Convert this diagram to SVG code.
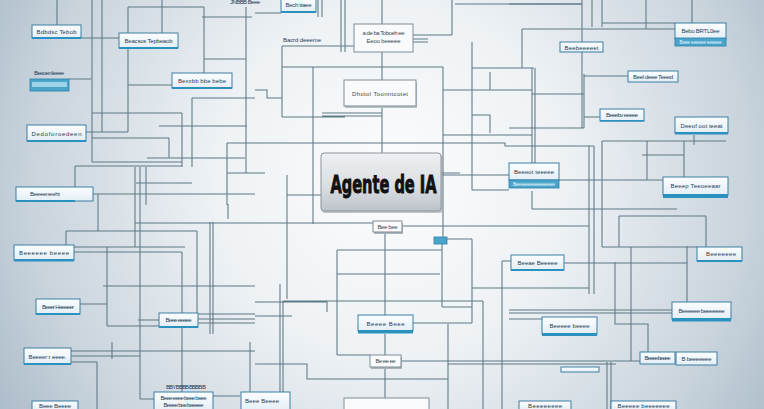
<svg xmlns="http://www.w3.org/2000/svg" width="764" height="409" viewBox="0 0 764 409">
<defs>
<radialGradient id="bg" gradientUnits="userSpaceOnUse" cx="390" cy="180" r="500">
<stop offset="0" stop-color="#fbfcfd"/>
<stop offset="0.35" stop-color="#eef2f5"/>
<stop offset="0.72" stop-color="#c8d3dc"/>
<stop offset="1" stop-color="#9fb1c0"/>
</radialGradient>
<linearGradient id="lg" x1="0" y1="0" x2="0" y2="1">
<stop offset="0" stop-color="#fbfdfe"/>
<stop offset="1" stop-color="#e3eef5"/>
</linearGradient>
<linearGradient id="ag" x1="0" y1="0" x2="0" y2="1">
<stop offset="0" stop-color="#eef0f2"/>
<stop offset="0.6" stop-color="#d9dde1"/>
<stop offset="1" stop-color="#bcc3ca"/>
</linearGradient>
<style>
.ln{fill:none;stroke:#5e7884;stroke-width:1.05}
.lb{fill:url(#lg);stroke:#3d7fa4;stroke-width:1}
.wb{fill:#f8fafb;stroke:#7f8d97;stroke-width:1}
.bar{fill:#2b92bf}
.cy{fill:#4aa5cd;stroke:#2a7fa8;stroke-width:.8}
.t{font-family:"Liberation Sans",Arial,sans-serif;font-size:6px;fill:#1e3d58;text-anchor:middle}
.tw{font-family:"Liberation Sans",Arial,sans-serif;font-size:4.5px;fill:#eaf6fb;text-anchor:middle}
.tg{font-family:"Liberation Sans",Arial,sans-serif;font-size:6px;fill:#3a4a55;text-anchor:middle}
</style>
</defs>
<rect width="764" height="409" fill="url(#bg)"/>
<g id="connectors">
<path class="ln" d="M57 0V25 M92 0V162 M102 0V132 M81 38H119 M128 7V33 M128 7H204 M204 7V73 M162 0V33 M202 17H252 M246 7V173 M128 49V132 M86 132H128 M128 85H172 M69 79H91 M204 59H246 M192 98H255 M192 98V167 M92 113H182 M182 113V167 M159 126H247 M92 138H169 M169 138V158 M92 162H182 M147 158H245 M227 143V205 M227 173H265 M75 166H182 M75 166V187 M135 167V247 M140 167V399 M146 167V205 M136 183H192 M93 194H255 M98 194V231 M66 231H197 M66 231V245 M197 231V313 M74 247H185 M74 252H182 M182 252V392 M107 247V326 M107 326H159 M138 320H159 M80 304H107 M103 286H255 M135 223H373 M140 399H155 M210 222V334 M213 222V334 M71 351H255 M112 342V359 M71 356H140 M71 362H97 M97 362V409 M198 314H255 M198 319H255 M198 323H255 M213 396H240 M228 204V219 M250 342V392"/>
<path class="ln" d="M318 0V17 M322 0V17 M341 0V52 M345 0V52 M255 13H281 M382 0V24 M382 52V80 M382 107V153 M282 46H354 M282 46V117 M282 117H345 M282 67H443 M443 67V237 M313 67V224 M322 113H382 M322 116H382 M227 143H505V146H594 M455 4H582 M452 0V35 M413 35H452 M413 39H428 M413 42H428 M472 42V190 M472 190H509 M472 68H534 M490 72V90 M443 90H532 M472 115H490V133 M443 135H532 M442 175H509 M287 175V299 M287 195H321 M255 90H267V98H282 M441 173H460"/>
<path class="ln" d="M582 0V42 M582 52V128 M509 4H582 M592 0V27 M602 0V27 M602 23H675 M522 29H675 M522 29V68 M646 0V29 M692 0V23 M532 68V163 M535 68V163 M532 94H584 M584 74V128 M584 76H628 M584 117H600 M509 128H584 M589 146V294 M594 146V294 M602 141H726 M602 141V247 M647 141V180 M642 155H684 M684 141V178 M694 135V145 M559 180H663 M532 191V209 M532 209H677"/>
<path class="ln" d="M403 226H510 M385 232V315 M385 334V355 M385 367V398 M337 250H442 M337 250V355 M337 355H370 M442 244V307 M442 307H472 M472 239V323 M447 239H472 M337 274H440 M283 301H483 M283 301V409 M483 301V409 M255 302H327V312 M255 316H292 M448 324V409 M413 323H472 M255 364H307V379H448 M401 361H640 M448 364H616 M502 261V409 M502 261H511 M472 288H589 M280 284V409 M602 247H697 M619 216V247 M619 216H706 M706 216V247 M509 226H589 M564 263H687 M687 246V302 M631 247V361 M615 262V324H648V352 M509 310H672 M509 313H672 M509 319H542 M607 362V409 M611 362V409"/>
</g>
<g id="n1"><rect class="lb" x="32" y="25" width="49" height="13"/><rect class="bar" x="32" y="37" width="49" height="2"/><text class="t" x="56.5" y="33.5" textLength="40">Bdbdsc Tebob</text></g>
<g id="n2"><rect class="lb" x="119" y="33" width="59" height="15"/><rect class="bar" x="119" y="47" width="59" height="2"/><text class="t" x="148.5" y="42.5" textLength="48">Beacsos Tepbeaob</text></g>
<g id="n3"><text class="t" x="49" y="75" font-size="5" textLength="30">Beeoen leeee</text><rect class="cy" x="30" y="79" width="39" height="12"/><rect x="32" y="82" width="35" height="5" fill="#9fd3e8"/></g>
<g id="n4"><rect class="lb" x="172" y="73" width="60" height="15"/><rect class="bar" x="172" y="87" width="60" height="2"/><text class="t" x="202" y="82.5" textLength="48">Bexxbb bbe bebe</text></g>
<g id="n5"><rect class="lb" x="27" y="125" width="59" height="16"/><rect class="bar" x="27" y="140" width="59" height="2"/><text class="t" x="56.5" y="135.5" textLength="50">Dedoforoedeen</text></g>
<g id="n6"><rect class="lb" x="16" y="187" width="77" height="14"/><rect class="bar" x="16" y="200" width="59" height="2"/><text class="t" x="45" y="196" textLength="30">Beeeeneeht</text></g>
<g id="n7"><rect class="lb" x="281" y="-2" width="35" height="14"/><rect class="bar" x="281" y="11" width="35" height="2"/><text class="t" x="298.5" y="7" textLength="26">Bech ttaee</text></g>
<g id="n8"><text class="t" x="302" y="42" font-size="5" textLength="38">Bacrd deeeme</text></g>
<g id="n9"><rect class="wb" x="354" y="24" width="59" height="28"/><text class="tg" x="383.5" y="35" font-size="5" textLength="42">a de ba Toboeh ee</text><text class="tg" x="383.5" y="43" font-size="5" textLength="34">Eeoo beeeee</text></g>
<g id="n10"><rect x="345" y="82" width="72" height="26" fill="#b8c2c9"/><rect class="wb" x="344" y="80" width="72" height="26"/><text class="tg" x="380" y="96" font-size="7" fill="#2c3a44" textLength="56">Dhotol Toonntcotet</text></g>
<g id="n11"><rect x="322" y="155" width="121" height="58" rx="3" fill="#9aa3ab" opacity=".6"/><rect x="321" y="153" width="120" height="58" rx="3" fill="url(#ag)" stroke="#8c959c" stroke-width="1"/><text x="383.5" y="193" font-family="'Liberation Sans Narrow','DejaVu Sans Condensed','Liberation Sans',sans-serif" font-weight="bold" font-size="25" fill="#111" stroke="#111" stroke-width="0.9" text-anchor="middle" textLength="106" lengthAdjust="spacingAndGlyphs">Agente de IA</text></g>
<g id="n12"><text class="t" x="245" y="4" font-size="5" textLength="30">JNBBB Beee</text></g>
<g id="n13"><rect class="lb" x="560" y="42" width="43" height="10"/><text class="t" x="581.5" y="49.5" font-size="5" textLength="34">Beebeeeeet</text></g>
<g id="n14"><rect class="lb" x="675" y="23" width="51" height="16"/><rect class="cy" x="675" y="38" width="51" height="8"/><text class="t" x="700.5" y="32.5" textLength="38">Bebo BRTL0ee</text><text class="tw" x="700.5" y="43.5" textLength="42">Beee eeeeee  eeeeee</text></g>
<g id="n15"><rect class="lb" x="628" y="71" width="50" height="11"/><text class="t" x="653" y="78.5" font-size="5" textLength="40">Beel deee Teeed</text></g>
<g id="n16"><rect class="lb" x="600" y="109" width="44" height="12"/><rect class="bar" x="600" y="120" width="44" height="1.5"/><text class="t" x="622" y="117" font-size="5" textLength="32">Beeebv eeeee</text></g>
<g id="n17"><rect class="lb" x="675" y="117" width="53" height="16"/><rect class="bar" x="675" y="132" width="53" height="2.5"/><text class="t" x="701.5" y="127.5" font-size="7" textLength="42">Deeof oot teeat</text></g>
<g id="n18"><rect class="lb" x="509" y="163" width="50" height="17"/><rect class="cy" x="509" y="180" width="50" height="8"/><text class="t" x="534" y="174" textLength="40">Beeeot teeeee</text><text class="tw" x="534" y="185.5" textLength="42">Beeeeeeeeeeeeeeeee</text></g>
<g id="n19"><rect class="lb" x="663" y="177" width="65" height="18"/><rect class="bar" x="663" y="194" width="65" height="4"/><text class="t" x="695.5" y="188" textLength="50">Beeep Teeoeeaar</text></g>
<g id="n20"><rect class="lb" x="14" y="245" width="60" height="15"/><rect class="bar" x="14" y="259" width="60" height="2.5"/><text class="t" x="44" y="254.5" textLength="50">Beeeeee beeee</text></g>
<g id="n21"><rect class="lb" x="36" y="299" width="44" height="15"/><rect class="bar" x="36" y="313" width="44" height="2"/><text class="t" x="58" y="308.5" font-size="5" textLength="32">Beeer Heeeeer</text></g>
<g id="n22"><rect class="lb" x="159" y="313" width="39" height="14"/><rect class="bar" x="159" y="326" width="39" height="2"/><text class="t" x="178.5" y="322" font-size="5" textLength="26">Beee eeeee</text></g>
<g id="n23"><rect class="lb" x="24" y="348" width="47" height="16"/><rect class="bar" x="24" y="363" width="47" height="2"/><text class="t" x="47.5" y="358.5" textLength="38">Beeeer r eeee.</text></g>
<g id="n24"><text class="t" x="186" y="389" font-size="4.5" textLength="40">BBY BBBB BBBB B</text><rect class="lb" x="154" y="392" width="59" height="20"/><text class="t" x="183.5" y="400" font-size="5" textLength="46">Beee eeee beee beee</text><text class="t" x="183.5" y="406.5" font-size="5" textLength="40">Beeee bee beeeee</text></g>
<g id="n25"><rect class="lb" x="32" y="401" width="46" height="10"/><text class="t" x="55" y="408" font-size="5" textLength="32">Beee Beeee</text></g>
<g id="n26"><rect class="lb" x="241" y="392" width="49" height="20"/><text class="t" x="262" y="403" font-size="5" textLength="34">Beee Beeee</text></g>
<g id="n27"><rect x="374" y="223" width="29" height="11" fill="#aab3ba"/><rect class="wb" x="373" y="221" width="29" height="11"/><text class="tg" x="387.5" y="228.5" font-size="5" textLength="20">Bee bee</text></g>
<g id="n28"><rect class="cy" x="434" y="237" width="13" height="7"/></g>
<g id="n29"><rect class="lb" x="358" y="315" width="55" height="16"/><rect class="bar" x="358" y="330" width="55" height="3.5"/><text class="t" x="385.5" y="325.5" textLength="38">Beeee Beee</text></g>
<g id="n30"><rect x="371" y="357" width="31" height="12" fill="#aab3ba"/><rect class="wb" x="370" y="355" width="31" height="12"/><text class="tg" x="385.5" y="363" font-size="5" textLength="20">Be ee ee</text></g>
<g id="n31"><rect class="wb" x="344" y="398" width="85" height="14"/></g>
<g id="n33"><rect class="lb" x="511" y="255" width="53" height="15"/><rect class="bar" x="511" y="269" width="53" height="2"/><text class="t" x="537.5" y="264.5" textLength="40">Beeae Beeeee</text></g>
<g id="n34"><rect class="lb" x="697" y="247" width="45" height="14"/><rect class="bar" x="697" y="260" width="45" height="2"/><text class="t" x="721" y="256" font-size="5" textLength="30">Beeeeeee</text></g>
<g id="n35"><rect class="lb" x="672" y="302" width="59" height="17"/><rect class="bar" x="672" y="318" width="59" height="3.5"/><text class="t" x="701.5" y="312.5" font-size="5.5" textLength="46">Beeeeee beeeeeee</text></g>
<g id="n36"><rect class="lb" x="542" y="317" width="55" height="17"/><rect class="bar" x="542" y="333" width="55" height="3"/><text class="t" x="569.5" y="328" textLength="40">Beeeee beeee</text></g>
<g id="n37"><rect class="lb" x="640" y="352" width="35" height="12"/><text class="t" x="657.5" y="360" font-size="5" textLength="26">Beeee beeee</text></g>
<g id="n38"><rect class="lb" x="676" y="352" width="41" height="13"/><text class="t" x="696.5" y="360.5" font-size="5" textLength="30">B beeeeeee</text></g>
<g id="n39"><rect class="lb" x="561" y="367" width="38" height="5"/></g>
<g id="n40"><rect class="lb" x="519" y="401" width="52" height="10"/><text class="t" x="545" y="408" font-size="5" textLength="34">Beeeeeeee</text></g>
<g id="n41"><rect class="lb" x="611" y="401" width="65" height="10"/><text class="t" x="643.5" y="408" font-size="5" textLength="52">Beeeee beeeeeee</text></g>
</svg>
